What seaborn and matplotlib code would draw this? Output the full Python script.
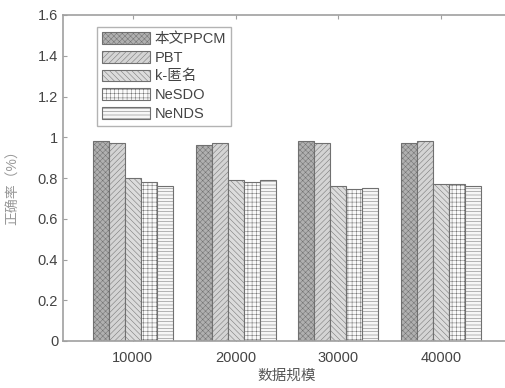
import seaborn as sns
import matplotlib.pyplot as plt
import pandas as pd

# 数据
scales = ["10000", "20000", "30000", "40000"]
methods = ["本文PPCM", "PBT", "k-匿名", "NeSDO", "NeNDS"]
ppcm = [0.98, 0.96, 0.98, 0.97]
pbt = [0.97, 0.97, 0.97, 0.98]
k_anon = [0.80, 0.79, 0.76, 0.77]
nesdo = [0.78, 0.78, 0.745, 0.77]
nends = [0.76, 0.79, 0.75, 0.76]

df = pd.DataFrame({
    "scale": scales * 5,
    "method": [m for m in methods for _ in scales],
    "acc": ppcm + pbt + k_anon + nesdo + nends,
})

sns.set_style("ticks")
plt.rcParams['font.family'] = ['Liberation Sans', 'Noto Sans CJK SC']
plt.rcParams['hatch.linewidth'] = 0.35

gray = "#707070"
fill_colors = ["#b0b0b0", "#d4d4d4", "#dcdcdc", "#fafafa", "#f6f6f6"]
hatches = ["xxxxxx", "//////", "\\\\\\\\\\\\", "++++", "-----"]

fig = plt.figure(figsize=(5.06, 3.88), dpi=100)
ax = fig.add_axes([63 / 506, 47 / 388, 448 / 506, 326 / 388])

sns.barplot(data=df, x="scale", y="acc", hue="method", ax=ax,
            width=0.78, palette=fill_colors, edgecolor=gray,
            linewidth=0.8, saturation=1, errorbar=None)

for cont, h, c in zip(ax.containers, hatches, fill_colors):
    for bar in cont:
        bar.set_hatch(h)
        bar.set_facecolor(c)
        bar.set_edgecolor(gray)

ax.set_xlim(-0.68, 3.68)
ax.set_ylim(0, 1.6)
ax.set_yticks([0, 0.2, 0.4, 0.6, 0.8, 1.0, 1.2, 1.4, 1.6])
ax.set_yticklabels(["0", "0.2", "0.4", "0.6", "0.8", "1", "1.2", "1.4", "1.6"])

for s in ["top", "bottom", "left"]:
    ax.spines[s].set_visible(True)
    ax.spines[s].set_color("#a0a0a0")
    ax.spines[s].set_linewidth(1.2)
ax.spines["right"].set_visible(False)

ax.tick_params(direction="in", length=3, color="#a0a0a0", labelcolor="#444444",
               labelsize=10.5, top=True, right=False)
ax.tick_params(axis="x", pad=7)
ax.set_xlabel("数据规模", fontsize=10.5, color="#555555", labelpad=3)
ax.set_ylabel("正确率（%）", fontsize=10, color="#999999")
ax.yaxis.set_label_coords(-0.096, 0.48)

leg = ax.legend(loc="upper left", bbox_to_anchor=(0.076, 0.963), fontsize=10.5,
                frameon=True, fancybox=False, edgecolor="#a0a0a0",
                handlelength=3.3, handleheight=0.85, labelspacing=0.32,
                handletextpad=0.3, borderpad=0.35, borderaxespad=0)
leg.get_frame().set_linewidth(1.0)
for patch, h, c in zip(leg.get_patches(), hatches, fill_colors):
    patch.set_hatch(h)
    patch.set_facecolor(c)
    patch.set_edgecolor(gray)
for t in leg.get_texts():
    t.set_color("#444444")

fig.savefig("out.png", dpi=100)
